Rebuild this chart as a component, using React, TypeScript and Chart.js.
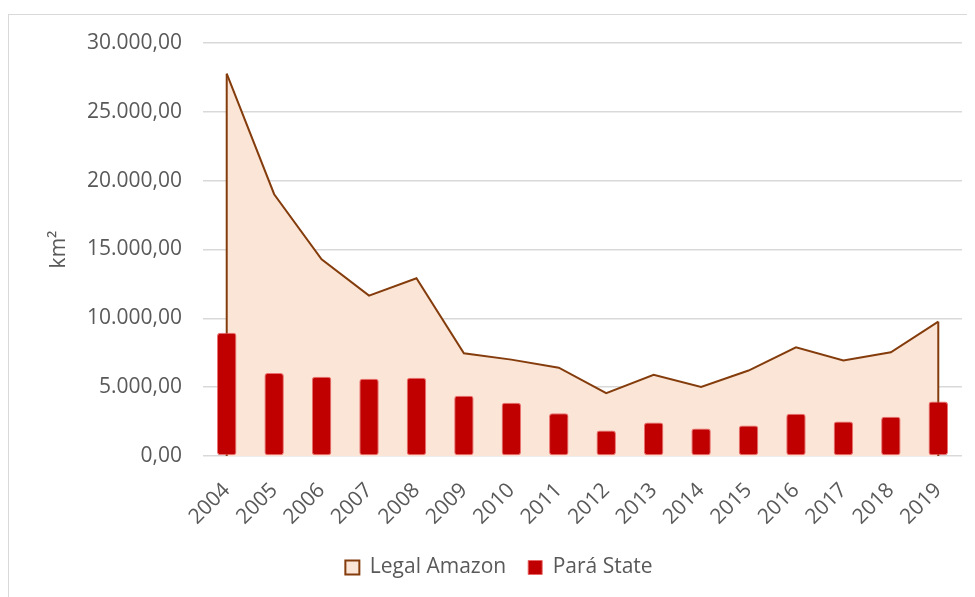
import React, { useEffect, useRef } from "react";
import { Chart, registerables } from "chart.js";

Chart.register(...registerables);

const years = ["2004", "2005", "2006", "2007", "2008", "2009", "2010", "2011", "2012", "2013", "2014", "2015", "2016", "2017", "2018", "2019"];
const legalAmazon = [27772, 19014, 14286, 11651, 12911, 7464, 7000, 6418, 4571, 5891, 5012, 6207, 7893, 6947, 7536, 9762];
const paraState = [8950, 6020, 5750, 5620, 5690, 4380, 3870, 3100, 1850, 2440, 2000, 2220, 3070, 2510, 2850, 3960];
const yMin = 0;
const yMax = 30000;
const yStep = 5000;
const seriesNames = ["Legal Amazon", "Pará State"];
const yTitle = "km²";

const fmt = (v: number) =>
  Math.round(v).toString().replace(/\B(?=(\d{3})+(?!\d))/g, ".") + ",00";

const TEXT = "#595959";
const FONT = "'Open Sans', sans-serif";

const areaEdges = {
  id: "areaEdges",
  afterDatasetDraw(chart: any, args: any) {
    if (args.index !== 0) return;
    const meta = chart.getDatasetMeta(0);
    const pts = meta.data;
    if (!pts.length) return;
    const y0 = chart.scales.y.getPixelForValue(0);
    const ctx = chart.ctx;
    ctx.save();
    ctx.strokeStyle = "#843C0C";
    ctx.lineWidth = 2;
    [pts[0], pts[pts.length - 1]].forEach((p: any) => {
      ctx.beginPath();
      ctx.moveTo(p.x, p.y);
      ctx.lineTo(p.x, y0);
      ctx.stroke();
    });
    ctx.restore();
  },
};

export default function App() {
  const ref = useRef<HTMLCanvasElement>(null);
  useEffect(() => {
    if (!ref.current) return;
    const chart = new Chart(ref.current, {
      type: "bar",
      data: {
        labels: years,
        datasets: [
          {
            type: "line",
            label: seriesNames[0],
            data: legalAmazon,
            borderColor: "#843C0C",
            backgroundColor: "#FBE5D6",
            borderWidth: 2,
            fill: "origin",
            pointRadius: 0,
            tension: 0,
            order: 2,
          } as any,
          {
            type: "bar",
            label: seriesNames[1],
            data: paraState,
            backgroundColor: "#C00000",
            borderColor: "rgba(232,100,100,0.9)",
            borderWidth: 1,
            borderSkipped: false,
            borderRadius: 3,
            categoryPercentage: 1,
            barPercentage: 0.41,
            order: 1,
          } as any,
        ],
      },
      options: {
        responsive: false,
        animation: false,
        devicePixelRatio: 1,
        layout: { padding: { left: 28, top: 35, right: 13, bottom: 9 } },
        plugins: {
          tooltip: { enabled: false },
          legend: {
            position: "bottom",
            labels: {
              font: { family: FONT, size: 21 },
              color: TEXT,
              boxWidth: 14,
              boxHeight: 14,
              padding: 22,
              sort: (a: any, b: any) => a.datasetIndex - b.datasetIndex,
            },
          },
        },
        scales: {
          x: {
            offset: true,
            grid: { display: false },
            border: { display: false },
            ticks: {
              font: { family: FONT, size: 21 },
              color: TEXT,
              maxRotation: 45,
              minRotation: 45,
              padding: 14,
              autoSkip: false,
            },
            afterFit: (s: any) => {
              s.height = 79;
            },
          },
          y: {
            min: yMin,
            max: yMax,
            grid: { color: "#d9d9d9", lineWidth: 1.5, drawTicks: false },
            border: { display: false },
            ticks: {
              stepSize: yStep,
              callback: (v: any) => fmt(Number(v)),
              font: { family: FONT, size: 21 },
              color: TEXT,
              padding: 21,
            },
            title: {
              display: true,
              text: yTitle,
              font: { family: FONT, size: 21 },
              color: TEXT,
              padding: { top: 10, bottom: 0 },
            },
            afterFit: (s: any) => {
              s.width = 167;
            },
          },
        },
      },
      plugins: [areaEdges],
    });
    return () => chart.destroy();
  }, []);

  return (
    <div style={{ position: "relative", width: 967, height: 589, overflow: "hidden" }}>
      <div
        style={{
          position: "absolute",
          left: 0,
          top: 6,
          width: 1100,
          height: 1100,
          border: "1.5px solid #d9d9d9",
          boxSizing: "border-box",
        }}
      />
      <canvas
        ref={ref}
        width={967}
        height={589}
        style={{ position: "absolute", left: 0, top: 0, width: 967, height: 589 }}
      />
    </div>
  );
}
